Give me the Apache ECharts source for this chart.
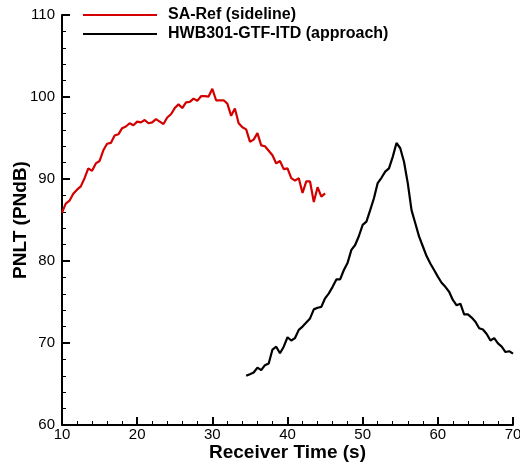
<!DOCTYPE html>
<html>
<head>
<meta charset="utf-8">
<script src="https://cdn.jsdelivr.net/npm/echarts@6/dist/echarts.min.js"></script>
<style>html,body{margin:0;padding:0;background:#fff;}#c{width:520px;height:465px;}</style>
</head>
<body>
<div id="c"></div>
<script>
var sidelineTime = [10,10.5,11,11.5,12,12.5,13,13.5,14,14.5,15,15.5,16,16.5,17,17.5,18,18.5,19,19.5,20,20.5,21,21.5,22,22.5,23,23.5,24,24.5,25,25.5,26,26.5,27,27.5,28,28.5,29,29.5,30,30.5,31,31.5,32,32.5,33,33.5,34,34.5,35,35.5,36,36.5,37,37.5,38,38.5,39,39.5,40,40.5,41,41.5,42,42.5,43,43.5,44,44.5,45];
var sidelinePNLT = [85.9,87.0,87.35,88.2,88.7,89.1,90.1,91.3,91.0,91.9,92.2,93.5,94.3,94.4,95.3,95.45,96.2,96.4,96.8,96.55,97.0,96.9,97.2,96.8,96.9,97.3,97.0,96.7,97.5,97.9,98.65,99.1,98.65,99.35,99.4,99.8,99.55,100.1,100.1,100.05,101.0,99.6,99.6,99.6,99.2,97.7,98.6,96.8,96.3,96.05,94.55,94.8,95.6,94.1,94.0,93.45,92.9,91.9,92.2,91.2,91.3,90.1,89.8,90.1,88.3,89.7,89.7,87.2,89.0,87.85,88.25];
var approachTime = [34.5,35,35.5,36,36.5,37,37.5,38,38.5,39,39.5,40,40.5,41,41.5,42,42.5,43,43.5,44,44.5,45,45.5,46,46.5,47,47.5,48,48.5,49,49.5,50,50.5,51,51.5,52,52.5,53,53.5,54,54.5,55,55.5,56,56.5,57,57.5,58,58.5,59,59.5,60,60.5,61,61.5,62,62.5,63,63.5,64,64.5,65,65.5,66,66.5,67,67.5,68,68.5,69,69.5,70];
var approachPNLT = [66.0,66.2,66.4,67.0,66.7,67.3,67.5,69.2,69.55,68.75,69.55,70.7,70.3,70.6,71.6,72.0,72.5,73.0,74.1,74.3,74.4,75.45,76.05,76.85,77.75,77.75,78.9,79.8,81.35,81.95,83.05,84.4,84.8,86.2,87.65,89.5,90.15,90.9,91.3,92.7,94.4,93.75,92.1,89.5,86.2,84.6,83.0,81.8,80.6,79.7,78.9,78.1,77.35,76.85,76.25,75.25,74.6,74.8,73.5,73.5,73.1,72.6,71.8,71.65,71.1,70.3,70.6,69.95,69.55,68.9,69.0,68.7];
var seriesNames = ['SA-Ref (sideline)', 'HWB301-GTF-ITD (approach)'];

function pairs(xs, ys) { return xs.map(function (x, i) { return [x, ys[i]]; }); }

var font = 'Arial, "Liberation Sans", Helvetica, sans-serif';
var axisCommon = {
  splitLine: { show: false },
  axisLine: { show: true, onZero: false, lineStyle: { color: '#000', width: 2 } },
  axisTick: { show: true, inside: true, length: 8, lineStyle: { color: '#000', width: 2 } },
  minorTick: { show: true, splitNumber: 5, length: 4, lineStyle: { color: '#000', width: 1 } },
  axisLabel: { color: '#000', fontSize: 15, fontFamily: font },
  nameLocation: 'middle',
  nameMoveOverlap: false,
  nameTextStyle: { color: '#000', fontSize: 19, fontWeight: 'bold', fontFamily: font }
};

var chart = echarts.init(document.getElementById('c'), null, { renderer: 'canvas' });
chart.setOption({
  animation: false,
  backgroundColor: '#fff',
  grid: { left: 62, right: 7, top: 15, bottom: 40, containLabel: false, outerBoundsMode: 'none' },
  legend: {
    orient: 'vertical', left: 83, top: 7, padding: 0, itemGap: 3,
    itemWidth: 74, itemHeight: 2, icon: 'rect',
    textStyle: { color: '#000', fontSize: 16, fontWeight: 'bold', fontFamily: font, padding: [0, 0, 0, 6], lineHeight: 16 },
    data: seriesNames
  },
  xAxis: Object.assign({}, axisCommon, {
    type: 'value', min: 10, max: 70, interval: 10,
    name: 'Receiver Time (s)', nameGap: 18,
    axisLabel: Object.assign({}, axisCommon.axisLabel, { margin: 2 })
  }),
  yAxis: Object.assign({}, axisCommon, {
    type: 'value', min: 60, max: 110, interval: 10,
    name: 'PNLT (PNdB)', nameGap: 32,
    axisLabel: Object.assign({}, axisCommon.axisLabel, { margin: 7 })
  }),
  series: [
    { name: seriesNames[0], type: 'line', symbol: 'none', data: pairs(sidelineTime, sidelinePNLT),
      lineStyle: { color: '#d40000', width: 2.2 }, itemStyle: { color: '#d40000' } },
    { name: seriesNames[1], type: 'line', symbol: 'none', data: pairs(approachTime, approachPNLT),
      lineStyle: { color: '#000', width: 2.2 }, itemStyle: { color: '#000' } }
  ]
});
</script>
</body>
</html>
